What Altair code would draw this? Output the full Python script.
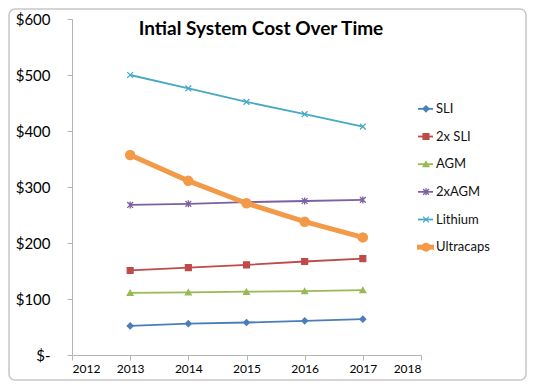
import altair as alt
import pandas as pd

years = [2013, 2014, 2015, 2016, 2017]
series = ["SLI", "2x SLI", "AGM", "2xAGM", "Lithium", "Ultracaps"]
sli = [52, 56, 58, 61, 64]
sli2 = [151, 156, 161, 167, 172]
agm = [111, 112, 113, 114, 116]
agm2 = [268, 270, 273, 275, 277]
lithium = [500, 476, 452, 430, 408]
ultracaps = [357, 311, 271, 238, 210]
colors = ["#4A7EBB", "#BE4B48", "#98B954", "#7D60A0", "#46AAC5", "#F29A48"]
x_ticks = [2012, 2013, 2014, 2015, 2016, 2017, 2018]
y_ticks = [0, 100, 200, 300, 400, 500, 600]
title_text = "Intial System Cost Over Time"

values = [sli, sli2, agm, agm2, lithium, ultracaps]
rows = []
for s, vals in zip(series, values):
    for yr, v in zip(years, vals):
        rows.append({"series": s, "year": yr, "cost": v})
df = pd.DataFrame(rows)
leg_df = pd.DataFrame({"series": series})

FONT = "Lato"
AXIS_GRAY = "#b5b5b5"
shapes = [
    "diamond",
    "square",
    "triangle-up",
    "M-1,-1L1,1M-1,1L1,-1M0,-1.2L0,1.2",
    "M-1,-1L1,1M-1,1L1,-1",
    "circle",
]
color_scale = alt.Scale(domain=series, range=colors)
shape_scale = alt.Scale(domain=series, range=shapes)
thin = alt.FieldOneOfPredicate(field="series", oneOf=series[:-1])
thick = alt.FieldEqualPredicate(field="series", equal=series[-1])

x_enc = alt.X(
    "year:Q",
    scale=alt.Scale(domain=[2012, 2018], nice=False, zero=False),
    axis=alt.Axis(values=x_ticks, format="d", title=None, grid=False,
                  labelFontSize=12, labelFont=FONT, labelColor="#000",
                  domainColor=AXIS_GRAY, tickColor=AXIS_GRAY, tickSize=5,
                  labelPadding=3),
)
y_enc = alt.Y(
    "cost:Q",
    scale=alt.Scale(domain=[0, 600], nice=False),
    axis=alt.Axis(values=y_ticks, title=None, grid=False,
                  labelExpr="datum.value == 0 ? '$-\u00a0\u00a0\u00a0' : '$' + datum.value",
                  labelAlign="right", labelPadding=17, labelFontSize=15,
                  labelFont=FONT, labelColor="#000",
                  domainColor=AXIS_GRAY, tickColor=AXIS_GRAY, tickSize=5),
)

color_enc = alt.Color("series:N", scale=color_scale, legend=None)
stroke_enc = alt.Stroke("series:N", scale=color_scale, legend=None)
shape_enc = alt.Shape("series:N", scale=shape_scale, legend=None)

base = alt.Chart(df)
lines_thin = base.transform_filter(thin).mark_line(strokeWidth=1.8).encode(
    x=x_enc, y=y_enc, color=color_enc, order=alt.Order("year:Q"),
)
lines_thick = base.transform_filter(thick).mark_line(strokeWidth=5).encode(
    x="year:Q", y="cost:Q", color=color_enc, order=alt.Order("year:Q"),
)
points_thin = base.transform_filter(thin).mark_point(
    filled=True, opacity=1, strokeWidth=1.3, size=34).encode(
    x="year:Q", y="cost:Q", color=color_enc, stroke=stroke_enc, shape=shape_enc,
)
points_thick = base.transform_filter(thick).mark_point(
    filled=True, opacity=1, size=110).encode(
    x="year:Q", y="cost:Q", color=color_enc, shape=shape_enc,
)
data_layer = alt.layer(lines_thin, points_thin, lines_thick, points_thick)

leg_y = alt.Y("series:N", sort=series, axis=None,
              scale=alt.Scale(domain=series, range=[76, 242]))
leg_base = alt.Chart(leg_df)
leg_rule_thin = leg_base.transform_filter(thin).mark_rule(strokeWidth=1.8).encode(
    x=alt.value(346), x2=alt.value(361), y=leg_y, color=color_enc,
)
leg_rule_thick = leg_base.transform_filter(thick).mark_rule(strokeWidth=5).encode(
    x=alt.value(345), x2=alt.value(362), y=leg_y, color=color_enc,
)
leg_pt_thin = leg_base.transform_filter(thin).mark_point(
    filled=True, opacity=1, strokeWidth=1.3, size=34).encode(
    x=alt.value(354), y=leg_y, color=color_enc, stroke=stroke_enc, shape=shape_enc,
)
leg_pt_thick = leg_base.transform_filter(thick).mark_point(
    filled=True, opacity=1, size=80).encode(
    x=alt.value(354), y=leg_y, color=color_enc, shape=shape_enc,
)
leg_txt = leg_base.mark_text(align="left", baseline="middle", font=FONT,
                             fontSize=13, color="#111").encode(
    x=alt.value(364), y=leg_y, text="series:N",
)
legend_layer = alt.layer(leg_rule_thin, leg_rule_thick, leg_pt_thin,
                         leg_pt_thick, leg_txt)

title = alt.Chart(pd.DataFrame({"t": [title_text]})).mark_text(
    font=FONT, fontSize=19, fontWeight="bold", color="#000",
    align="center", baseline="alphabetic",
).encode(x=alt.value(189), y=alt.value(16), text="t:N")

frame = alt.Chart(pd.DataFrame({"a": [0]})).mark_rect(
    fill="transparent", stroke="#c8c8c8", strokeWidth=1.5, cornerRadius=6,
).encode(x=alt.value(-63), x2=alt.value(454), y=alt.value(-10), y2=alt.value(361))

chart = alt.layer(frame, data_layer, legend_layer, title).resolve_scale(
    y="independent"
).properties(
    width=349, height=336,
    autosize=alt.AutoSizeParams(type="none"),
    padding={"left": 64, "top": 11, "right": 106, "bottom": 26},
    background="white",
).configure_view(stroke=None)

chart.save("out.html", embed_options={"renderer": "svg", "actions": False})
